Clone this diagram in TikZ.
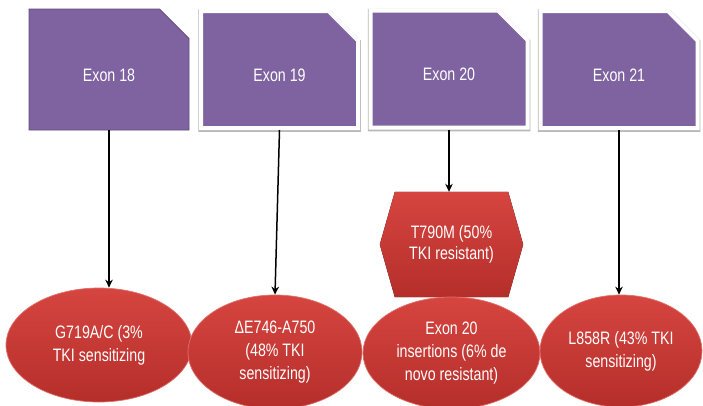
\documentclass[tikz,border=0pt]{standalone}
\usepackage{fontspec}
\setmainfont[FakeStretch=0.79]{Liberation Sans}
\usetikzlibrary{shapes.misc,shapes.geometric,arrows.meta,backgrounds}
\definecolor{exonpurple}{HTML}{7F63A1}
\definecolor{exonedge}{HTML}{5E4A80}
\definecolor{redtop}{HTML}{D64540}
\definecolor{redbot}{HTML}{B52E2A}
\definecolor{rededge}{HTML}{E0706B}
\begin{document}
\begin{tikzpicture}[x=1pt,y=-1pt,
  exon/.style={chamfered rectangle, chamfered rectangle corners=north east,
    chamfered rectangle xsep=17pt, chamfered rectangle ysep=18pt,
    fill=exonpurple, text=white, font=\fontsize{18}{20}\selectfont, inner sep=0pt,
    text height=23pt, text depth=0pt},
  exonplain/.style={exon, draw=exonedge, line width=0.8pt, minimum width=160pt, minimum height=121pt},
  exonframed/.style={exon, draw=white, line width=4pt, minimum width=157pt, minimum height=117pt,
    preaction={draw=black!28, line width=5.5pt, transform canvas={yshift=-1pt}}},
  mut/.style={ellipse, top color=redtop, bottom color=redbot, draw=rededge, line width=0.7pt,
    text=white, align=center, font=\fontsize{18}{23}\selectfont, inner sep=0pt},
  hexbox/.style={rectangle, minimum width=143pt, minimum height=105pt, inner sep=0pt,
    text=white, align=center, font=\fontsize{18}{21.5}\selectfont},
  arr/.style={-{Stealth[length=8pt,width=7.5pt,inset=2.5pt]}, line width=1.5pt, black}]
\clip (0,0) rectangle (703,405);

\node[exonplain]  (b1) at (109,69.5)   {Exon 18};
\node[exonframed] (b2) at (279.5,69.5) {Exon 19};
\node[exonframed] (b3) at (449,69)     {Exon 20};
\node[exonframed] (b4) at (619,69.5)   {Exon 21};

\node[hexbox] (hex) at (451.5,244.5) {T790M (50\%\\TKI resistant)};
\begin{scope}[on background layer]
  \fill[white] (0,0) rectangle (703,405);
  \fill[top color=redtop, bottom color=redbot]
    ([xshift=15pt]hex.north west) -- ([xshift=-15pt]hex.north east) -- (hex.east)
    -- ([xshift=-15pt]hex.south east) -- ([xshift=15pt]hex.south west) -- (hex.west) -- cycle;
\end{scope}

\node[mut, minimum width=186pt, minimum height=114pt] (e1) at (99,345) {G719A/C (3\%\\TKI sensitizing};
\node[mut, minimum width=174pt, minimum height=114pt] (e2) at (275,352) {ΔE746-A750\\(48\% TKI\\sensitizing)};
\node[mut, minimum width=177pt, minimum height=112pt] (e3) at (451.5,353) {Exon 20\\insertions (6\% de\\novo resistant)};
\node[mut, minimum width=162pt, minimum height=112pt] (e4) at (621,351) {L858R (43\% TKI\\sensitizing)};

\draw[arr] (b1.south) -- (b1.south |- e1.north);
\draw[arr] (b2.south) -- (e2.north);
\draw[arr] (b3.south) -- (b3.south |- hex.north);
\draw[arr] (b4.south) -- (b4.south |- e4.north);
\end{tikzpicture}
\end{document}
